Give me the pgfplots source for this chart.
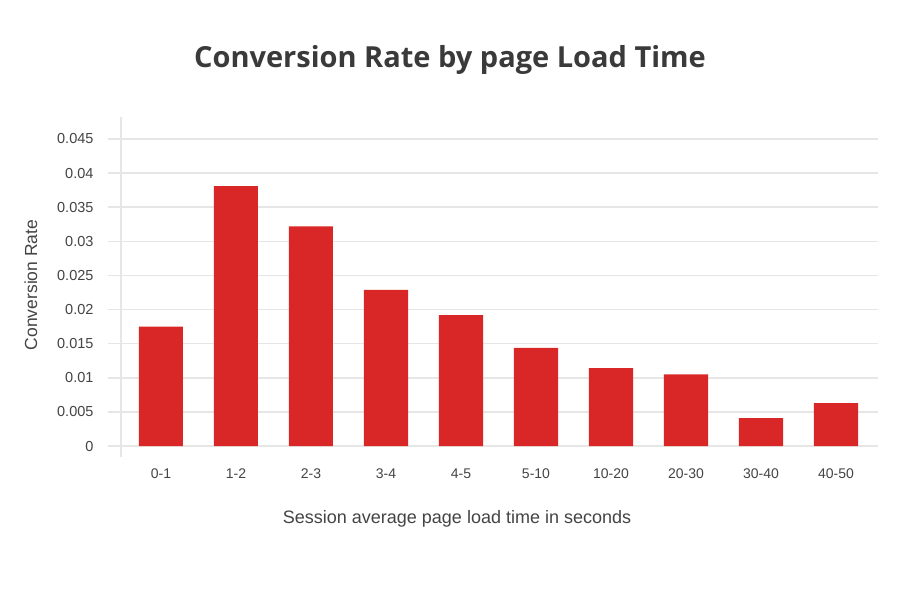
\documentclass[border=0pt]{standalone}
\usepackage{pgfplots}
\pgfplotsset{compat=1.18}
\usepackage{fontspec}
\setmainfont{Liberation Sans}
\newfontfamily\titlefont{Open Sans}
\definecolor{barred}{HTML}{D92727}
\definecolor{gridgray}{HTML}{E6E6E6}
\definecolor{txt}{HTML}{444444}
\definecolor{ttl}{HTML}{3A3A3A}
\begin{document}
\begin{tikzpicture}[x=1pt,y=1pt]
\path[use as bounding box, fill=white] (0,0) rectangle (900,599);
\begin{axis}[
  at={(121pt,142pt)}, anchor=south west,
  scale only axis, width=757pt, height=340pt,
  xmin=-0.533, xmax=9.56,
  ymin=-0.00161, ymax=0.04822,
  scaled y ticks=false,
  ytick={0,0.005,0.01,0.015,0.02,0.025,0.03,0.035,0.04,0.045},
  yticklabels={0,0.005,0.01,0.015,0.02,0.025,0.03,0.035,0.04,0.045},
  xtick={0,...,9},
  xticklabels={0-1,1-2,2-3,3-4,4-5,5-10,10-20,20-30,30-40,40-50},
  axis y line*=left, axis x line*=bottom,
  x axis line style={draw=none},
  y axis line style={draw=gridgray, line width=1.5pt},
  ymajorgrids, grid style={gridgray, line width=1.5pt},
  ytick style={draw=gridgray, line width=1.5pt},
  xtick style={draw=none},
  tick align=outside, major tick length=13pt,
  yticklabel style={font=\fontsize{14.5}{14.5}\selectfont, text=txt, anchor=east, xshift=-11pt},
  xticklabel style={font=\fontsize{14}{14}\selectfont, text=txt, anchor=north, yshift=5pt},
  title={Conversion Rate by page Load Time},
  title style={font=\titlefont\bfseries\fontsize{29}{29}\selectfont, text=ttl, at={(rel axis cs:0.4346,1.129)}, anchor=base},
  xlabel={Session average page load time in seconds},
  xlabel style={font=\fontsize{18}{18}\selectfont, text=txt, at={(rel axis cs:0.4439,-0.197)}, anchor=base},
  ylabel={Conversion Rate},
  ylabel style={font=\fontsize{17.5}{17.5}\selectfont, text=txt, at={(rel axis cs:-0.1189,0.506)}, anchor=center, rotate=0},
  clip=false,
]
\addplot[ybar, bar width=0.587, fill=barred, draw=none] coordinates {
  (0,0.0175) (1,0.0381) (2,0.0322) (3,0.0229) (4,0.0192)
  (5,0.0144) (6,0.0114) (7,0.0105) (8,0.0041) (9,0.0063)
};
\end{axis}
\end{tikzpicture}
\end{document}
